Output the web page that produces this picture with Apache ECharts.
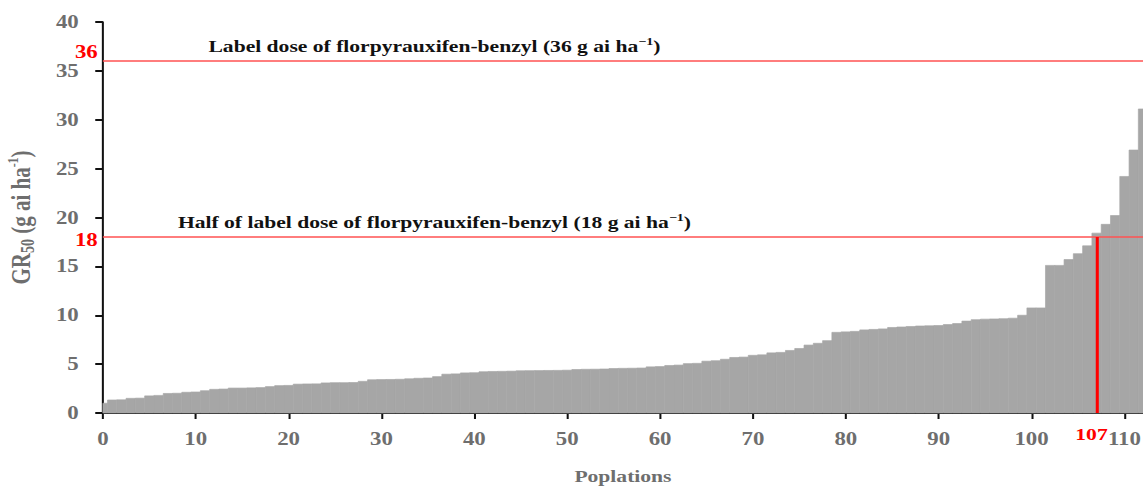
<!DOCTYPE html>
<html>
<head>
<meta charset="utf-8">
<script src="https://cdn.jsdelivr.net/npm/echarts@6/dist/echarts.min.js"></script>
<style>
  html, body { margin: 0; padding: 0; background: #fff; overflow: hidden; }
  /* the source figure is stretched horizontally, so draw narrower and stretch */
  #chart { width: 900px; height: 486px; transform: scaleX(1.27); transform-origin: 0 0; }
</style>
</head>
<body>
<div id="chart"></div>
<script>
// GR50 of each population, sorted ascending (population index 0..112)
const gr50 = [
  1.0, 1.33, 1.35, 1.5, 1.52, 1.75, 1.8, 2.0, 2.02, 2.12,
  2.15, 2.28, 2.42, 2.45, 2.55, 2.55, 2.57, 2.6, 2.7, 2.8,
  2.82, 2.95, 2.97, 2.98, 3.08, 3.1, 3.1, 3.12, 3.24, 3.4,
  3.42, 3.43, 3.45, 3.5, 3.55, 3.58, 3.72, 3.97, 4.0, 4.1,
  4.12, 4.22, 4.25, 4.26, 4.28, 4.32, 4.33, 4.34, 4.35, 4.36,
  4.38, 4.45, 4.47, 4.48, 4.5, 4.55, 4.57, 4.58, 4.6, 4.72,
  4.75, 4.86, 4.9, 5.05, 5.08, 5.3, 5.35, 5.5, 5.68, 5.72,
  5.9, 5.95, 6.15, 6.2, 6.4, 6.6, 6.95, 7.13, 7.4, 8.25,
  8.3, 8.35, 8.5, 8.55, 8.6, 8.75, 8.8, 8.85, 8.9, 8.92,
  8.95, 9.05, 9.15, 9.4, 9.55, 9.6, 9.62, 9.65, 9.7, 10.0,
  10.75, 10.75, 15.1, 15.1, 15.7, 16.3, 17.1, 18.4, 19.3, 20.2,
  24.2, 26.9, 31.1
]
const xTicks = [0, 10, 20, 30, 40, 50, 60, 70, 80, 90, 100, 110]
const labelDose = 36
const halfDose = 18
const cutPopulation = 107
const noteX = 35.7

const serif = '"Liberation Serif", "Times New Roman", serif'
const grey = '#6e6e6e'

const chart = echarts.init(document.getElementById('chart'), null, { renderer: 'svg' })

const noteRich = {
    a: { fontFamily: serif, fontWeight: 'bold', fontSize: 17, color: '#111', lineHeight: 20 },
    sup: { fontFamily: serif, fontWeight: 'bold', fontSize: 11, color: '#111', verticalAlign: 'top', lineHeight: 20 },
}

const option = {
    animation: false,
    grid: { left: 81, right: 0, top: 22, bottom: 73, outerBoundsMode: 'none' },
    xAxis: {
        type: 'value',
        min: 0,
        max: 112,
        name: 'Poplations',
        nameLocation: 'middle',
        nameGap: 55,
        nameTextStyle: { fontFamily: serif, fontWeight: 'bold', fontSize: 17, color: grey },
        splitLine: { show: false },
        axisLine: { lineStyle: { color: '#111', width: 2 } },
        axisTick: { show: true, length: 6, lineStyle: { color: '#111', width: 1.6 }, customValues: xTicks },
        axisLabel: {
            customValues: xTicks,
            margin: 17,
            fontFamily: serif, fontWeight: 'bold', fontSize: 18, color: grey,
        },
    },
    yAxis: {
        type: 'value',
        min: 0,
        max: 40,
        interval: 5,
        name: '{a|GR}{sub|50}{a| (g ai ha}{sup|-1}{a|)}',
        nameLocation: 'middle',
        nameGap: 52,
        nameTextStyle: {
            color: grey,
            rich: {
                a: { fontFamily: serif, fontWeight: 'bold', fontSize: 21, color: grey, lineHeight: 25 },
                sub: { fontFamily: serif, fontWeight: 'bold', fontSize: 14, color: grey, verticalAlign: 'bottom', lineHeight: 25 },
                sup: { fontFamily: serif, fontWeight: 'bold', fontSize: 12, color: grey, verticalAlign: 'top', lineHeight: 25 },
            },
        },
        splitLine: { show: false },
        axisLine: { show: true, lineStyle: { color: '#111', width: 1.6 } },
        axisTick: { show: true, length: 6, lineStyle: { color: '#111', width: 2 } },
        axisLabel: { margin: 19, fontFamily: serif, fontWeight: 'bold', fontSize: 18, color: grey },
    },
    series: [
        {
            type: 'custom',
            data: gr50.map((v, i) => [i, v]),
            renderItem: function (params, api) {
                const i = api.value(0)
                const p0 = api.coord([i - 0.5, api.value(1)])
                const p1 = api.coord([i + 0.5, 0])
                const shape = echarts.graphic.clipRectByRect(
                    { x: p0[0], y: p0[1], width: p1[0] - p0[0], height: p1[1] - p0[1] },
                    { x: params.coordSys.x, y: params.coordSys.y, width: params.coordSys.width, height: params.coordSys.height }
                )
                return shape && {
                    type: 'rect',
                    shape: shape,
                    style: { fill: '#a6a6a6', stroke: '#a6a6a6', lineWidth: 0.6 },
                }
            },
            markLine: {
                silent: true,
                symbol: 'none',
                data: [
                    {
                        yAxis: labelDose,
                        lineStyle: { color: '#ff5252', width: 1.5, type: 'solid' },
                        label: { show: true, position: 'start', formatter: String(labelDose), offset: [0, -9], distance: 4,
                            color: '#ff0000', fontFamily: serif, fontWeight: 'bold', fontSize: 18 },
                    },
                    {
                        yAxis: halfDose,
                        lineStyle: { color: '#ff5252', width: 1.5, type: 'solid' },
                        label: { show: true, position: 'start', formatter: String(halfDose), offset: [0, 3], distance: 4,
                            color: '#ff0000', fontFamily: serif, fontWeight: 'bold', fontSize: 18 },
                    },
                    [
                        {
                            coord: [cutPopulation, 0],
                            lineStyle: { color: '#ff0000', width: 2.4, type: 'solid' },
                            label: { show: true, position: 'start', formatter: String(cutPopulation), distance: 13,
                                offset: [-4, 0],
                                color: '#ff0000', fontFamily: serif, fontWeight: 'bold', fontSize: 17 },
                        },
                        { coord: [cutPopulation, halfDose] },
                    ],
                ],
            },
            markPoint: {
                silent: true,
                symbol: 'circle',
                symbolSize: 0,
                data: [
                    { coord: [noteX, labelDose], label: { formatter: '{a|Label dose of florpyrauxifen-benzyl (36 g ai ha}{sup|−1}{a|)}' } },
                    { coord: [noteX, halfDose], label: { formatter: '{a|Half of label dose of florpyrauxifen-benzyl (18 g ai ha}{sup|−1}{a|)}' } },
                ],
                label: {
                    show: true,
                    position: 'top',
                    distance: 5,
                    rich: noteRich,
                },
            },
        },
    ],
}

chart.setOption(option)
</script>
</body>
</html>
